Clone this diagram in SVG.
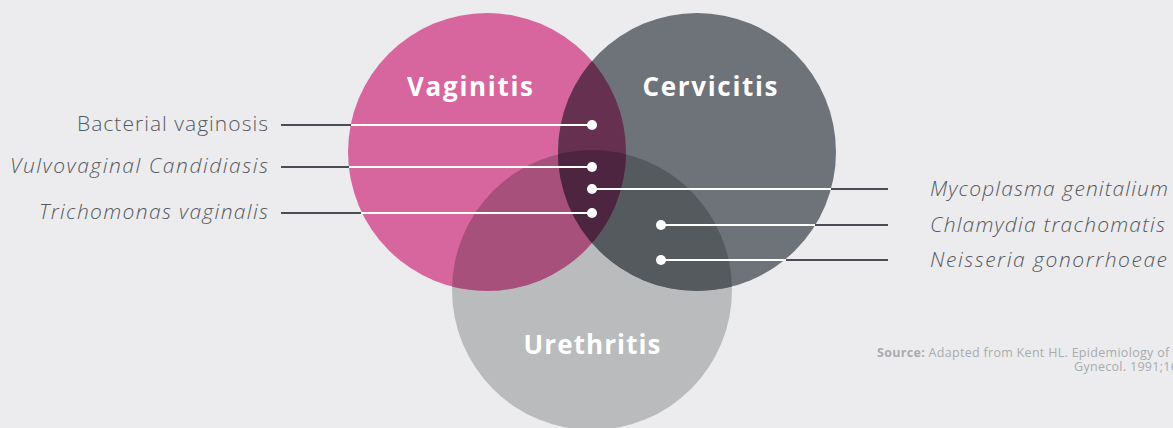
<svg xmlns="http://www.w3.org/2000/svg" width="1173" height="428" viewBox="0 0 1173 428">
<style>
.title{font-family:"Open Sans","Liberation Sans",sans-serif;font-weight:700;font-size:26px;fill:#ffffff;text-anchor:middle}
.lbl{font-family:"Open Sans","Liberation Sans",sans-serif;font-weight:300;font-size:21px;fill:#555961}
.it{font-style:italic}
.src{font-family:"Open Sans","Liberation Sans",sans-serif;font-size:12.5px;fill:#a9abae}
.dk{stroke:#4b4e56;stroke-width:2}
.wt{stroke:#ffffff;stroke-width:2}
.dot{fill:#ffffff}
</style>
<defs>
<clipPath id="cC"><circle cx="697" cy="152" r="139"/></clipPath>
<clipPath id="cU"><circle cx="592" cy="290" r="140"/></clipPath>
</defs>
<rect width="1173" height="428" fill="#ececee"/>
<g id="urethritis">
<circle cx="592" cy="290" r="140" fill="#b9bbbc"/>
<text class="title" x="592" y="354" textLength="137" lengthAdjust="spacing">Urethritis</text>
</g>
<g id="vaginitis">
<circle cx="487" cy="152" r="139" fill="#d8669e"/>
<text class="title" x="470" y="96" textLength="126" lengthAdjust="spacing">Vaginitis</text>
</g>
<g id="cervicitis">
<circle cx="697" cy="152" r="139" fill="#6e7279"/>
<text class="title" x="710" y="96" textLength="135" lengthAdjust="spacing">Cervicitis</text>
</g>
<g id="overlaps">
<g clip-path="url(#cU)">
<circle cx="487" cy="152" r="139" fill="#a7507b"/>
<circle cx="697" cy="152" r="139" fill="#555a5f"/>
</g>
<g clip-path="url(#cC)">
<circle cx="487" cy="152" r="139" fill="#663150"/>
</g>
<g clip-path="url(#cC)">
<g clip-path="url(#cU)">
<circle cx="487" cy="152" r="139" fill="#4e2541"/>
</g>
</g>
</g>
<g id="connectors">
<line class="dk" x1="281" y1="125" x2="351" y2="125"/>
<line class="wt" x1="351" y1="125" x2="592" y2="125"/>
<line class="dk" x1="281" y1="167" x2="349" y2="167"/>
<line class="wt" x1="349" y1="167" x2="592" y2="167"/>
<line class="dk" x1="281" y1="213" x2="361" y2="213"/>
<line class="wt" x1="361" y1="213" x2="592" y2="213"/>
<line class="wt" x1="592" y1="189" x2="831" y2="189"/>
<line class="dk" x1="831" y1="189" x2="888" y2="189"/>
<line class="wt" x1="661" y1="225" x2="815" y2="225"/>
<line class="dk" x1="815" y1="225" x2="888" y2="225"/>
<line class="wt" x1="661" y1="260" x2="786" y2="260"/>
<line class="dk" x1="786" y1="260" x2="888" y2="260"/>
<circle class="dot" cx="592" cy="125" r="5"/>
<circle class="dot" cx="592" cy="167" r="5"/>
<circle class="dot" cx="592" cy="189" r="5"/>
<circle class="dot" cx="592" cy="213" r="5"/>
<circle class="dot" cx="661" cy="225" r="5"/>
<circle class="dot" cx="661" cy="260" r="5"/>
</g>
<g id="labels-left">
<text class="lbl" x="268" y="131" text-anchor="end" textLength="191" lengthAdjust="spacing">Bacterial vaginosis</text>
<text class="lbl it" x="268" y="173" text-anchor="end" textLength="258" lengthAdjust="spacing">Vulvovaginal Candidiasis</text>
<text class="lbl it" x="268" y="219" text-anchor="end" textLength="229" lengthAdjust="spacing">Trichomonas vaginalis</text>
</g>
<g id="labels-right">
<text class="lbl it" x="930" y="196" textLength="238" lengthAdjust="spacing">Mycoplasma genitalium</text>
<text class="lbl it" x="930" y="232" textLength="235" lengthAdjust="spacing">Chlamydia trachomatis</text>
<text class="lbl it" x="930" y="267" textLength="237" lengthAdjust="spacing">Neisseria gonorrhoeae</text>
</g>
<g id="source">
<text class="src" x="877" y="357" letter-spacing="0.3"><tspan font-weight="700">Source:</tspan> Adapted from Kent HL. Epidemiology of vaginitis. Am J Obstet</text>
<text class="src" x="1074" y="371" letter-spacing="0.3">Gynecol. 1991;165:1168-76.</text>
</g>
</svg>
